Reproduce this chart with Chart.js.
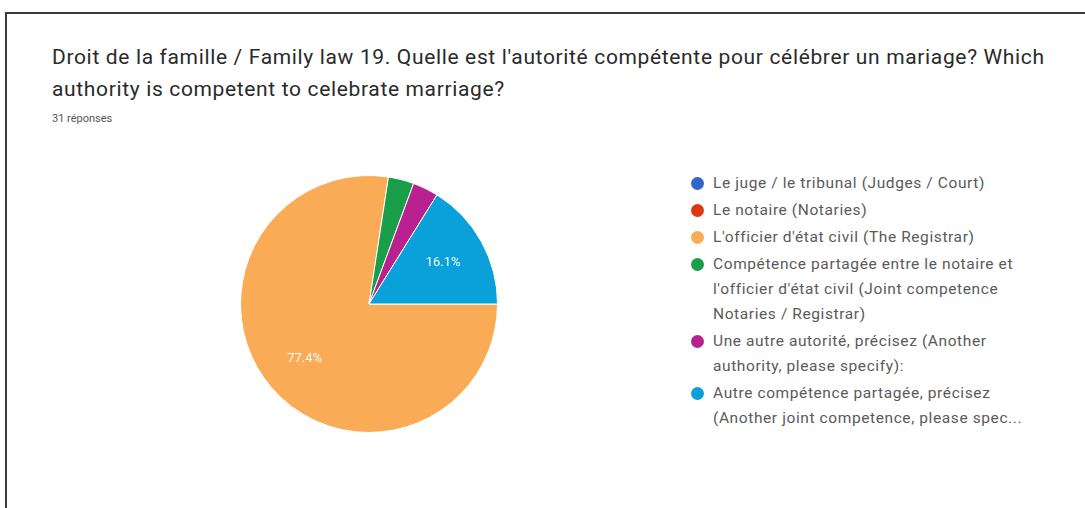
<!DOCTYPE html>
<html>
<head>
<meta charset="utf-8">
<script src="https://cdn.jsdelivr.net/npm/chart.js@4/dist/chart.umd.min.js"></script>
<style>
  html, body { margin: 0; background: #fff; font-family: Roboto, Arial, sans-serif; overflow: hidden; }
  #frame {
    position: absolute; left: 5px; top: 12px; width: 1200px; height: 600px;
    border-top: 2px solid #3c3c3c; border-left: 2px solid #3c3c3c;
  }
  #title {
    position: absolute; left: 52px; top: 41px; width: 1030px;
    font-size: 21px; letter-spacing: 0.65px; line-height: 32px; color: #2a2a2a;
  }
  #count {
    position: absolute; left: 52px; top: 112px; font-size: 11px; color: #555;
  }
  #pieBox { position: absolute; left: 240px; top: 175px; width: 258px; height: 258px; }
  #legend {
    position: absolute; left: 690px; top: 171px; width: 336px;
    list-style: none; margin: 0; padding: 0;
  }
  #legend li {
    position: relative; padding-left: 23px; margin-bottom: 2px; font-size: 15.5px; letter-spacing: 0.6px;
    line-height: 25px; color: #5a5a5a;
  }
  #legend li span.dot {
    position: absolute; left: 1px; top: 6px; width: 13px; height: 13px; border-radius: 50%;
  }
</style>
</head>
<body>
<div id="frame"></div>
<div id="title">Droit de la famille / Family law 19. Quelle est l'autorité compétente pour célébrer un mariage? Which<br>authority is competent to celebrate marriage?</div>
<div id="count">31 réponses</div>
<div id="pieBox"><canvas id="pieChart"></canvas></div>
<ul id="legend"></ul>

<script>
const categories = [
  'Le juge / le tribunal (Judges / Court)',
  'Le notaire (Notaries)',
  "L'officier d'état civil (The Registrar)",
  "Compétence partagée entre le notaire et l'officier d'état civil (Joint competence Notaries / Registrar)",
  'Une autre autorité, précisez (Another authority, please specify):',
  'Autre compétence partagée, précisez (Another joint competence, please specify):'
];
const responses = [0, 0, 24, 1, 1, 5];
const sliceColors = ['#3366cc', '#dc3912', '#f9ab55', '#1a9e4a', '#b8218f', '#0aa0d9'];
const maxLegendLines = [2, 2, 2, 3, 2, 2];

const total = responses.reduce((a, b) => a + b, 0);

// percentage labels drawn inside the big slices, like Google Forms does
const sliceLabels = {
  id: 'sliceLabels',
  afterDatasetsDraw(chart) {
    const ctx = chart.ctx;
    const meta = chart.getDatasetMeta(0);
    ctx.save();
    ctx.fillStyle = '#fff';
    ctx.font = '13px Roboto, Arial, sans-serif';
    ctx.textAlign = 'center';
    ctx.textBaseline = 'middle';
    meta.data.forEach((arc, i) => {
      const pct = responses[i] / total * 100;
      if (pct < 5) return;
      const p = arc.getProps(['x', 'y', 'startAngle', 'endAngle', 'outerRadius'], true);
      const mid = (p.startAngle + p.endAngle) / 2;
      const r = p.outerRadius * 0.66;
      ctx.fillText(pct.toFixed(1) + '%', p.x + Math.cos(mid) * r, p.y + Math.sin(mid) * r);
    });
    ctx.restore();
  }
};

const pieChart = new Chart(document.getElementById('pieChart').getContext('2d'), {
  type: 'pie',
  data: {
    labels: categories,
    datasets: [{
      data: responses,
      backgroundColor: sliceColors,
      borderColor: '#fff',
      borderWidth: 1
    }]
  },
  options: {
    responsive: true,
    maintainAspectRatio: false,
    animation: false,
    rotation: 90,
    layout: { padding: 0 },
    plugins: {
      legend: { display: false },
      tooltip: { enabled: false }
    }
  },
  plugins: [sliceLabels]
});

// html legend so the long labels can wrap; cut the text with "..." past the line limit
const legendEl = document.getElementById('legend');
categories.forEach((label, i) => {
  const li = document.createElement('li');
  li.innerHTML = '<span class="dot" style="background:' + sliceColors[i] + '"></span><span class="txt"></span>';
  const txt = li.querySelector('.txt');
  txt.textContent = label;
  legendEl.appendChild(li);
  const maxH = maxLegendLines[i] * 25 + 1;
  let s = label;
  while (li.getBoundingClientRect().height > maxH && s.length > 1) {
    s = s.slice(0, -1);
    txt.textContent = s.trimEnd() + '...';
  }
});
</script>
</body>
</html>
